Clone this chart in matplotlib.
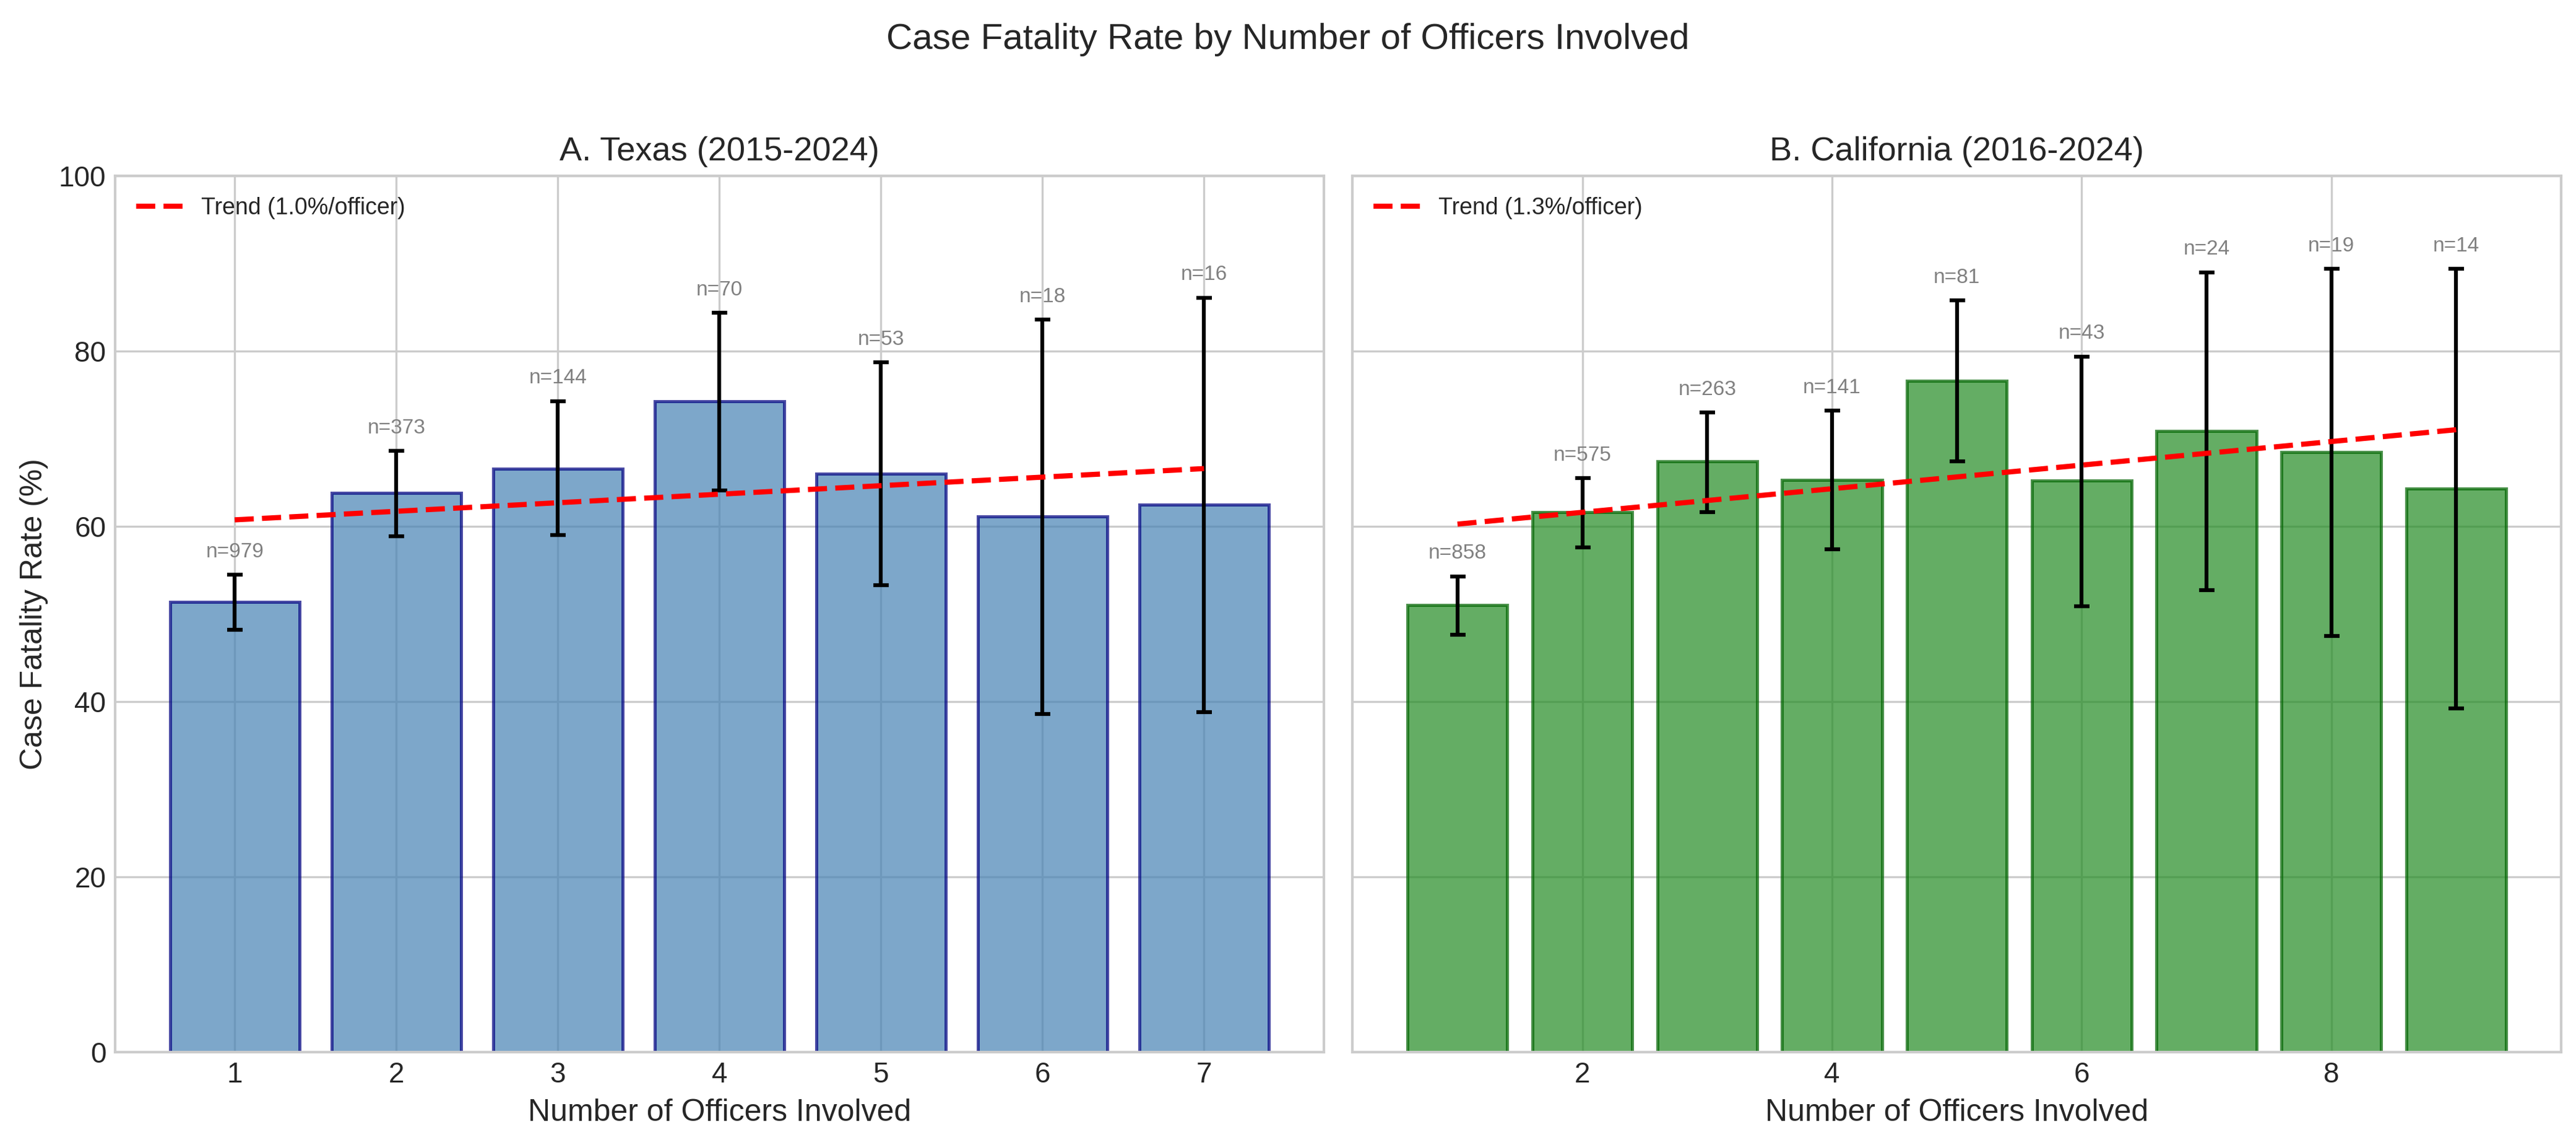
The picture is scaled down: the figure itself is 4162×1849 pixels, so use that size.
import numpy as np
import matplotlib
matplotlib.use('Agg')
import matplotlib.pyplot as plt

plt.style.use('seaborn-v0_8-whitegrid')
plt.rcParams['font.family'] = ['Liberation Sans', 'DejaVu Sans']

# Texas
tx_officers = [1, 2, 3, 4, 5, 6, 7]
tx_rate = [51.4, 63.8, 66.6, 74.3, 66.0, 61.1, 62.5]
tx_lower = [48.2, 58.9, 59.0, 64.1, 53.3, 38.6, 38.8]
tx_upper = [54.5, 68.6, 74.3, 84.4, 78.7, 83.6, 86.1]
tx_n = [979, 373, 144, 70, 53, 18, 16]

# California
ca_officers = [1, 2, 3, 4, 5, 6, 7, 8, 9]
ca_rate = [51.0, 61.6, 67.4, 65.3, 76.6, 65.2, 70.9, 68.5, 64.3]
ca_lower = [47.6, 57.6, 61.6, 57.4, 67.4, 50.9, 52.7, 47.5, 39.2]
ca_upper = [54.3, 65.5, 73.0, 73.2, 85.8, 79.4, 89.0, 89.4, 89.4]
ca_n = [858, 575, 263, 141, 81, 43, 24, 19, 14]

panels = [
    ('A. Texas (2015-2024)', tx_officers, tx_rate, tx_lower, tx_upper, tx_n, 'steelblue', 'navy'),
    ('B. California (2016-2024)', ca_officers, ca_rate, ca_lower, ca_upper, ca_n, 'forestgreen', 'darkgreen'),
]

fig, axes = plt.subplots(1, 2, figsize=(4162 / 300, 1849 / 300), sharey=True)
fig.subplots_adjust(left=0.0447, right=0.9942, top=0.8464, bottom=0.0811, wspace=0.024)

for ax, (title, x, rate, lo, hi, n, color, edge) in zip(axes, panels):
    x = np.array(x)
    rate = np.array(rate)
    yerr = [rate - np.array(lo), np.array(hi) - rate]
    ax.bar(x, rate, width=0.8, color=color, edgecolor=edge, alpha=0.7, linewidth=1.2)
    ax.errorbar(x, rate, yerr=yerr, fmt='none', ecolor='black', capsize=3, elinewidth=1.5, capthick=1.5)
    for xi, h, ni in zip(x, hi, n):
        ax.text(xi, h + 1.5, f'n={ni}', ha='center', va='bottom', fontsize=8, color='gray')
    slope, intercept = np.polyfit(x, rate, 1)
    ax.plot(x, slope * x + intercept, 'r--', linewidth=2, label=f'Trend ({slope:.1f}%/officer)')
    ax.set_title(title, fontsize=13)
    ax.set_xlabel('Number of Officers Involved', fontsize=12)
    ax.set_ylim(0, 100)
    ax.legend(loc='upper left', fontsize=9)
    ax.tick_params(labelsize=11)

axes[0].set_xticks(tx_officers)
axes[0].set_ylabel('Case Fatality Rate (%)', fontsize=12)
fig.suptitle('Case Fatality Rate by Number of Officers Involved', fontsize=14)

plt.savefig('out.png', dpi=300)
